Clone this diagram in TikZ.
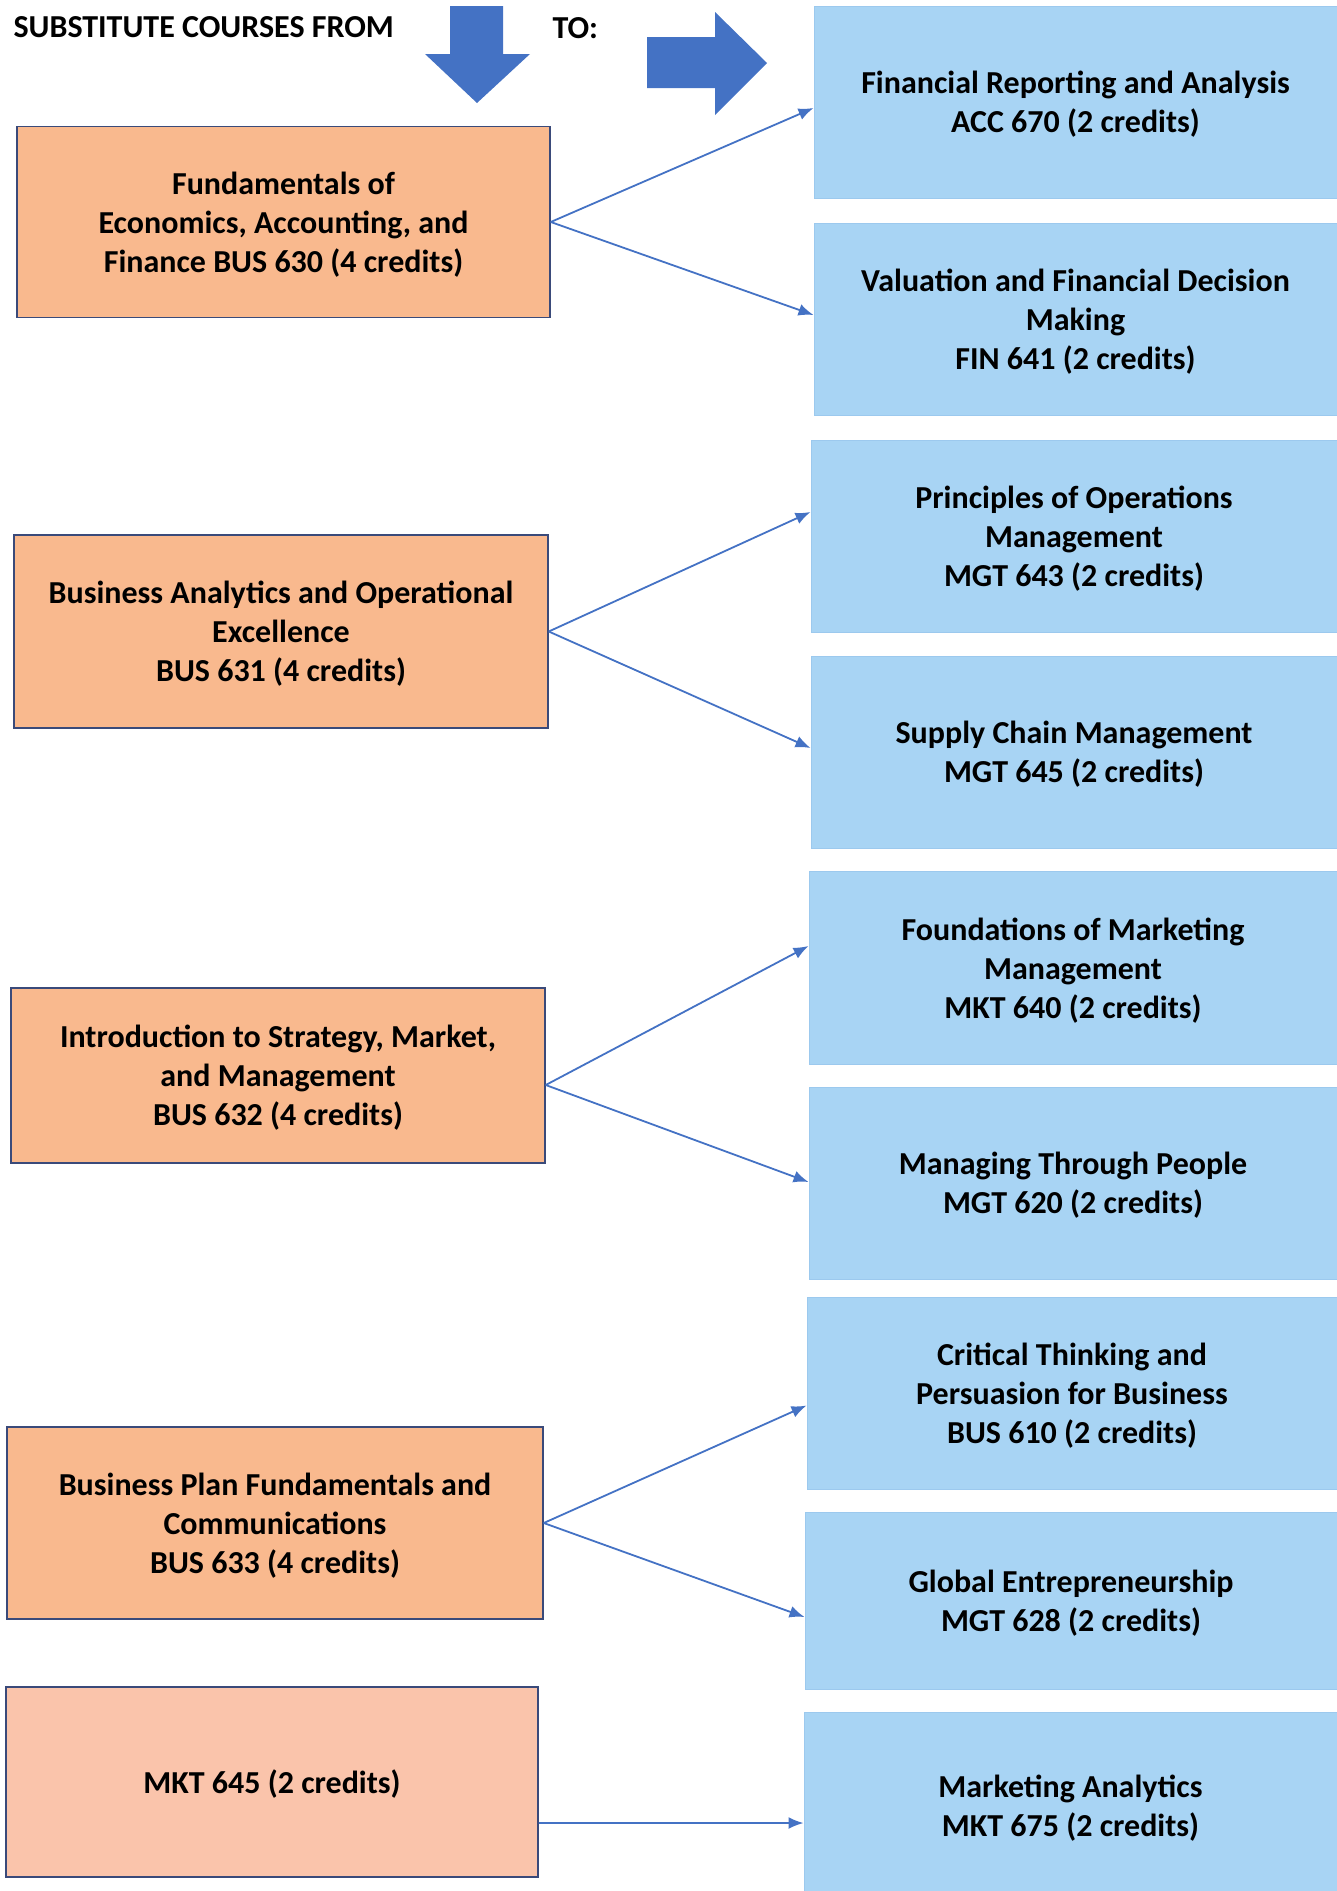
\documentclass[tikz,border=0pt]{standalone}
\usepackage{fontspec}
\setmainfont{Carlito}
\usepackage{tikz}
\usetikzlibrary{arrows.meta,shapes}

\definecolor{fromfill}{HTML}{F9B98E}
\definecolor{fromlast}{HTML}{FAC4AB}
\definecolor{fromline}{HTML}{3A4A7A}
\definecolor{tofill}{HTML}{A8D4F4}
\definecolor{toline}{HTML}{9CC9EE}
\definecolor{arrowblue}{HTML}{4472C4}
\newcommand{\coursefont}{\fontsize{32bp}{39bp}\selectfont\bfseries}

\begin{document}
\begin{tikzpicture}[
  frombox/.style={draw=fromline,line width=1.5bp,fill=fromfill,align=center,font=\coursefont,inner sep=0pt,text depth=0pt},
  tobox/.style={draw=toline,line width=1bp,fill=tofill,align=center,font=\coursefont,inner sep=0pt,text depth=0pt},
  link/.style={arrowblue,line width=1.8bp,-{Latex[length=15bp,width=12bp]}}]

\useasboundingbox (0bp,0bp) rectangle (1337bp,-1891bp);

% header
\node (from) at (10bp,-37bp)[anchor=base west,font=\coursefont] {SUBSTITUTE COURSES FROM};
\node (to) at (549bp,-38bp)[anchor=base west,font=\coursefont] {TO:};
\fill [arrowblue] (450bp,-6bp) -- (503bp,-6bp) -- (503bp,-54bp) -- (530bp,-54bp) -- (477bp,-103bp)
  -- (425bp,-54bp) -- (450bp,-54bp) -- cycle;
\fill [arrowblue] (647bp,-37bp) -- (715bp,-37bp) -- (715bp,-12bp) -- (767bp,-63bp) -- (715bp,-115bp)
  -- (715bp,-88bp) -- (647bp,-88bp) -- cycle;

% courses substituted
\node (bus630) at (283.5bp,-222bp)[frombox,minimum width=533bp,minimum height=191bp] {Fundamentals of\\Economics, Accounting, and\\Finance BUS 630 (4 credits)};
\node (bus631) at (281bp,-631.5bp)[frombox,minimum width=534bp,minimum height=193bp] {Business Analytics and Operational\\Excellence\\BUS 631 (4 credits)};
\node (bus632) at (278bp,-1075.5bp)[frombox,minimum width=534bp,minimum height=175bp] {Introduction to Strategy, Market,\\and Management\\BUS 632 (4 credits)};
\node (bus633) at (275bp,-1523bp)[frombox,minimum width=536bp,minimum height=192bp] {Business Plan Fundamentals and\\Communications\\BUS 633 (4 credits)};
\node (mkt645) at (272bp,-1782bp)[frombox,fill=fromlast,minimum width=532bp,minimum height=190bp] {MKT 645 (2 credits)};

% new courses
\node (acc670) at (1075.5bp,-102bp)[tobox,minimum width=523bp,minimum height=192bp] {Financial Reporting and Analysis\\ACC 670 (2 credits)};
\node (fin641) at (1075.5bp,-319bp)[tobox,minimum width=523bp,minimum height=192bp] {Valuation and Financial Decision\\Making\\FIN 641 (2 credits)};
\node (mgt643) at (1074bp,-536bp)[tobox,minimum width=526bp,minimum height=192bp] {Principles of Operations\\Management\\MGT 643 (2 credits)};
\node (mgt645) at (1074bp,-752bp)[tobox,minimum width=526bp,minimum height=192bp] {Supply Chain Management\\MGT 645 (2 credits)};
\node (mkt640) at (1073bp,-968bp)[tobox,minimum width=528bp,minimum height=193bp] {Foundations of Marketing\\Management\\MKT 640 (2 credits)};
\node (mgt620) at (1073bp,-1183bp)[tobox,minimum width=528bp,minimum height=192bp] {Managing Through People\\MGT 620 (2 credits)};
\node (bus610) at (1072bp,-1393bp)[tobox,minimum width=530bp,minimum height=192bp] {Critical Thinking and\\Persuasion for Business\\BUS 610 (2 credits)};
\node (mgt628) at (1071bp,-1600.5bp)[tobox,minimum width=532bp,minimum height=177bp] {Global Entrepreneurship\\MGT 628 (2 credits)};
\node (mkt675) at (1070.5bp,-1806bp)[tobox,minimum width=533bp,minimum height=188bp] {Marketing Analytics\\MKT 675 (2 credits)};

% substitutions
\draw [link] (bus630.east) to ([yshift=-6bp]acc670.west);
\draw [link] (bus630.east) to ([yshift=4bp]fin641.west);
\draw [link] (bus631.east) to ([yshift=24bp]mgt643.west);
\draw [link] (bus631.east) to ([yshift=4bp]mgt645.west);
\draw [link] ([yshift=-9.5bp]bus632.east) to ([yshift=22bp]mkt640.west);
\draw [link] ([yshift=-9.5bp]bus632.east) to ([yshift=1bp]mgt620.west);
\draw [link] (bus633.east) to ([yshift=-12.5bp]bus610.west);
\draw [link] (bus633.east) to ([yshift=-16.5bp]mgt628.west);
\draw [link] ([yshift=-41bp]mkt645.east) to ([yshift=-17bp]mkt675.west);
\end{tikzpicture}
\end{document}
